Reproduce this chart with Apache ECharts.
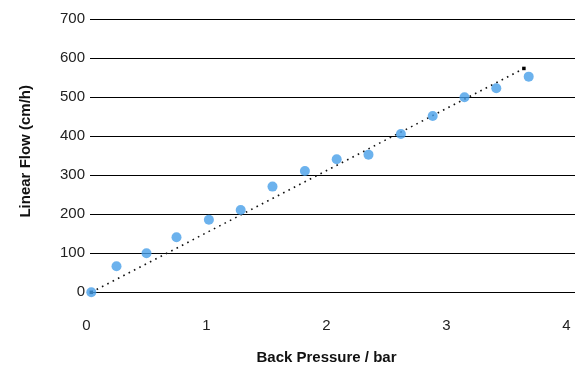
<!DOCTYPE html>
<html>
<head>
<meta charset="utf-8">
<script src="https://cdn.jsdelivr.net/npm/echarts@6/dist/echarts.min.js"></script>
<style>html,body{margin:0;padding:0;background:#fff}#c{width:587px;height:377px}</style>
</head>
<body>
<div id="c"></div>
<script>
var pressure = [0.04, 0.25, 0.50, 0.75, 1.02, 1.285, 1.55, 1.82, 2.085, 2.35, 2.62, 2.885, 3.15, 3.415, 3.685];
var flow = [0, 67, 100, 141, 186, 211, 271, 311, 341, 353, 406, 452, 500, 523, 553];
var trendX = [0.04, 3.645];
var trendY = [0, 574];
var xTicks = [0, 1, 2, 3, 4];
var yTicks = [0, 100, 200, 300, 400, 500, 600, 700];

var pts = pressure.map(function (p, i) { return [p, flow[i]]; });
var trend = trendX.map(function (p, i) { return [p, trendY[i]]; });
var font = 'Arial, "Liberation Sans", sans-serif';

var chart = echarts.init(document.getElementById('c'));
chart.setOption({
  animation: false,
  grid: [
    { left: 90, right: 12, top: 19.3, bottom: 84.7 },
    { left: 86.5, width: 480, top: 19.3, bottom: 84.7 }
  ],
  xAxis: [
    { gridIndex: 0, type: 'value', min: 0, max: 1, show: false },
    {
      gridIndex: 1, type: 'value', min: xTicks[0], max: xTicks[xTicks.length - 1], interval: 1,
      axisLine: { show: false }, axisTick: { show: false }, splitLine: { show: false },
      axisLabel: { margin: 26, fontSize: 15, color: '#222', fontFamily: font },
      name: 'Back Pressure / bar', nameLocation: 'middle', nameGap: 58,
      nameTextStyle: { fontSize: 15, fontWeight: 'bold', color: '#111', fontFamily: font }
    }
  ],
  yAxis: [
    {
      gridIndex: 0, type: 'value', min: yTicks[0], max: yTicks[yTicks.length - 1], interval: 100,
      axisLine: { show: false }, axisTick: { show: false },
      splitLine: { show: true, lineStyle: { color: '#000', width: 1.2 } },
      axisLabel: { margin: 5, fontSize: 15, color: '#222', fontFamily: font, padding: [3, 0, 0, 0] },
      name: 'Linear Flow (cm/h)', nameLocation: 'middle', nameGap: 57, nameRotate: 90,
      nameTextStyle: { fontSize: 15, fontWeight: 'bold', color: '#111', fontFamily: font, padding: [0, 0, 0, 9] }
    },
    { gridIndex: 1, type: 'value', min: 0, max: 700, show: false }
  ],
  series: [
    {
      type: 'line', xAxisIndex: 1, yAxisIndex: 1, data: trend,
      symbol: 'rect', symbolSize: 3.5, showSymbol: true,
      itemStyle: { color: '#000' },
      lineStyle: { color: '#111', width: 1.6, type: [1.6, 4.4] },
      z: 2
    },
    {
      type: 'scatter', xAxisIndex: 1, yAxisIndex: 1, data: pts,
      symbol: 'circle', symbolSize: 10,
      itemStyle: { color: '#479fe8' },
      z: 3
    }
  ]
});
</script>
</body>
</html>
